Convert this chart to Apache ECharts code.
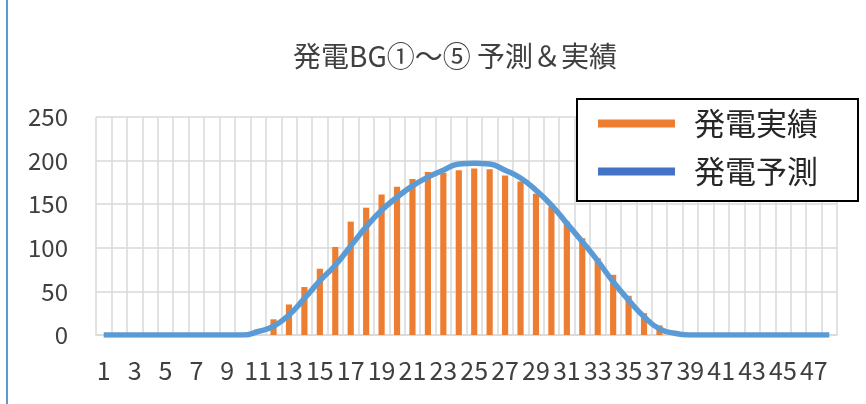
<!DOCTYPE html>
<html>
<head>
<meta charset="utf-8">
<script src="https://cdn.jsdelivr.net/npm/echarts@6/dist/echarts.min.js"></script>
<style>
  html, body { margin: 0; padding: 0; background: #fff; }
  #chart { width: 866px; height: 404px; }
</style>
</head>
<body>
<div id="chart"></div>
<script>
// 30-minute slots 1..48
const categories = [];
for (let i = 1; i <= 48; i++) categories.push(String(i));

// 発電実績 (actual generation) per slot
const actual = [
  0, 0, 0, 0, 0, 0, 0, 0, 0, 0,
  0, 18, 35, 55, 76, 101, 130, 146, 161, 170,
  179, 187, 186, 189, 191, 190, 183, 176, 162, 147,
  130, 111, 88, 69, 45, 25, 11, 0, 0, 0,
  0, 0, 0, 0, 0, 0, 0, 0
];

// 発電予測 (forecast generation) per slot
const forecast = [
  0, 0, 0, 0, 0, 0, 0, 0, 0, 0,
  4, 10, 23, 42, 62, 80, 102, 124, 143, 158,
  171, 181, 189, 196, 197, 196, 189, 180, 166, 149,
  128, 107, 85, 61, 40, 21, 7, 2, 0, 0,
  0, 0, 0, 0, 0, 0, 0, 0
];

const yMin = 0, yMax = 250, yStep = 50;

const FONT = '"Noto Sans CJK JP", "Noto Sans", sans-serif';
const gridColor = '#D9D9D9';
const textColor = '#404040';

const chart = echarts.init(document.getElementById('chart'), null, { renderer: 'canvas' });

chart.setOption({
  animation: false,
  backgroundColor: '#fff',
  title: {
    text: '発電BG①～⑤ 予測＆実績',
    left: 455,
    top: 42,
    textAlign: 'center',
    padding: 0,
    textStyle: { fontFamily: FONT, fontSize: 28, fontWeight: 'normal', color: textColor }
  },
  legend: {
    orient: 'vertical',
    left: 577,
    top: 99,
    padding: [9, 40, 14, 21],
    itemGap: 17,
    itemWidth: 77,
    itemHeight: 8,
    icon: 'rect',
    borderColor: '#000',
    borderWidth: 2,
    backgroundColor: '#fff',
    z: 10,
    textStyle: { fontFamily: FONT, fontSize: 31, color: '#262626', padding: [0, 0, 0, 14] },
    data: [
      { name: '発電実績', itemStyle: { color: '#ED7D31' } },
      { name: '発電予測', itemStyle: { color: '#4472C4' } }
    ]
  },
  grid: { left: 96, right: 29, top: 117, bottom: 69, containLabel: false },
  xAxis: {
    type: 'category',
    data: categories,
    boundaryGap: true,
    axisLine: { lineStyle: { color: gridColor, width: 1.5 } },
    axisTick: { show: false },
    axisLabel: { interval: 1, margin: 23, fontFamily: FONT, fontSize: 25, color: textColor },
    splitLine: { show: true, interval: 0, lineStyle: { color: gridColor, width: 1.5 } }
  },
  yAxis: {
    type: 'value',
    min: yMin,
    max: yMax,
    interval: yStep,
    axisLine: { show: false },
    axisTick: { show: false },
    axisLabel: { margin: 28, fontFamily: FONT, fontSize: 24, color: textColor, padding: [0, 0, 8, 0] },
    splitLine: { lineStyle: { color: gridColor, width: 1.5 } }
  },
  series: [
    {
      name: '発電実績',
      type: 'bar',
      data: actual,
      barWidth: '40%',
      itemStyle: { color: '#ED7D31' },
      z: 2
    },
    {
      name: '発電予測',
      type: 'line',
      data: forecast,
      smooth: 0.5,
      showSymbol: false,
      symbol: 'none',
      lineStyle: { color: '#5B9BD5', width: 5.5 },
      itemStyle: { color: '#5B9BD5' },
      z: 3
    }
  ],
  graphic: [
    {
      type: 'line',
      shape: { x1: 7, y1: 0, x2: 7, y2: 404 },
      style: { stroke: '#5B9BD5', lineWidth: 2 },
      z: 100
    }
  ]
});
</script>
</body>
</html>
